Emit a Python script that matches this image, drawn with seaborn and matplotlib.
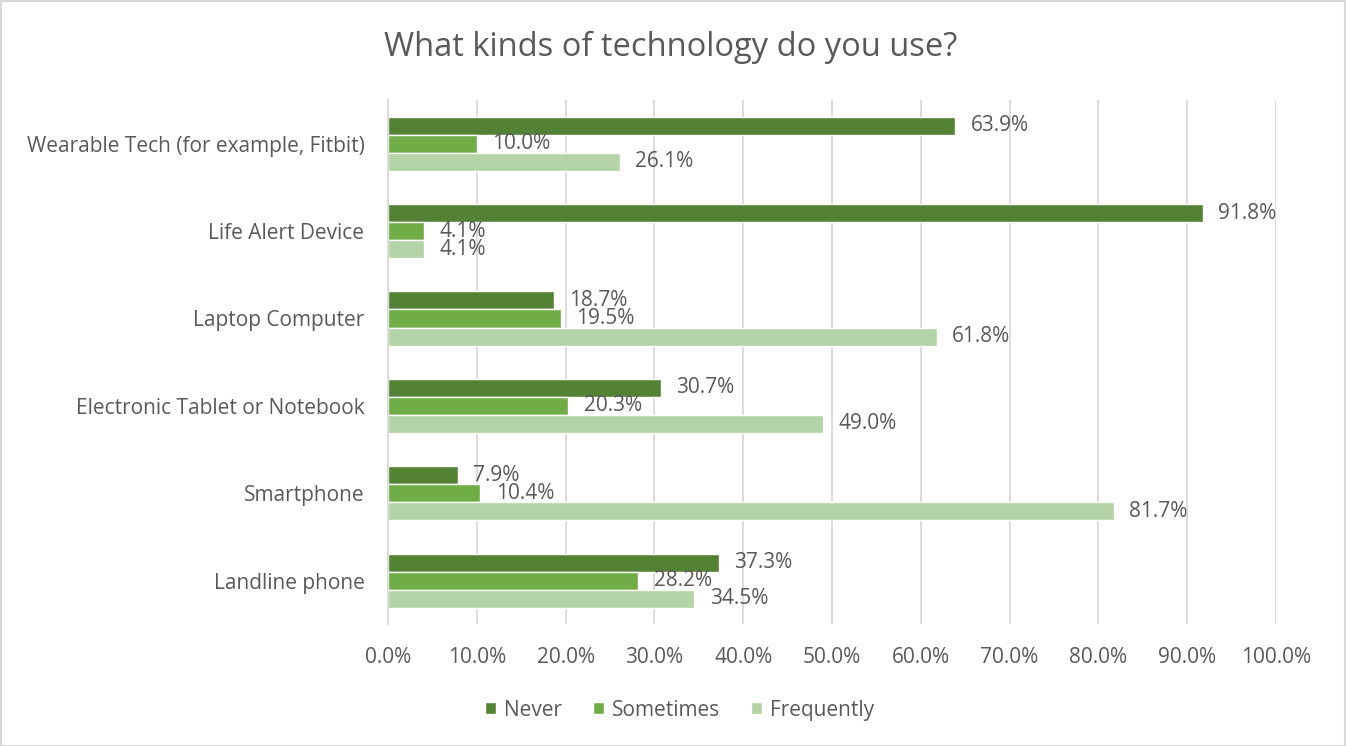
import matplotlib
matplotlib.use("Agg")
import matplotlib.pyplot as plt
import seaborn as sns
import pandas as pd
from matplotlib.patches import Rectangle
from matplotlib.ticker import FuncFormatter, MultipleLocator

# Survey results: share of respondents per usage frequency
categories = [
    "Wearable Tech (for example, Fitbit)",
    "Life Alert Device",
    "Laptop Computer",
    "Electronic Tablet or Notebook",
    "Smartphone",
    "Landline phone",
]
series = ["Never", "Sometimes", "Frequently"]
never = [63.9, 91.8, 18.7, 30.7, 7.9, 37.3]
sometimes = [10.0, 4.1, 19.5, 20.3, 10.4, 28.2]
frequently = [26.1, 4.1, 61.8, 49.0, 81.7, 34.5]
colors = ["#548235", "#70AD47", "#B4D3A6"]

values = {"Never": never, "Sometimes": sometimes, "Frequently": frequently}
rows = []
for s in series:
    for c, v in zip(categories, values[s]):
        rows.append({"Technology": c, "Frequency": s, "Percent": v})
df = pd.DataFrame(rows)

sns.set_theme(style="white")
plt.rcParams["font.family"] = ["Open Sans", "DejaVu Sans"]
text_color = "#595959"
fs = 15

fig = plt.figure(figsize=(13.46, 7.46), dpi=100)
ax = fig.add_axes([0.2883, 0.163, 0.6597, 0.703])

sns.barplot(
    data=df, y="Technology", x="Percent", hue="Frequency",
    order=categories, hue_order=series, palette=colors,
    orient="h", width=0.62, ax=ax, legend=True, saturation=1,
)

ax.set_xlim(0, 100)
ax.xaxis.set_major_locator(MultipleLocator(10))
ax.xaxis.set_major_formatter(FuncFormatter(lambda v, p: f"{v:.1f}%"))
ax.grid(axis="x", color="#D9D9D9", linewidth=1.3)
ax.set_axisbelow(True)
for side in ["top", "right", "bottom"]:
    ax.spines[side].set_visible(False)
ax.spines["left"].set_color("#D9D9D9")
ax.spines["left"].set_linewidth(1.3)
ax.set_xlabel("")
ax.set_ylabel("")
ax.tick_params(axis="both", length=0, labelsize=fs, colors=text_color)
ax.tick_params(axis="x", pad=16)
ax.tick_params(axis="y", pad=17)

for container in ax.containers:
    ax.bar_label(container, labels=[f"{v:.1f}%" for v in container.datavalues],
                 padding=11, fontsize=fs, color=text_color)

handles, labels = ax.get_legend_handles_labels()
ax.get_legend().remove()
fig.legend(
    handles, labels, loc="center", bbox_to_anchor=(0.505, 0.048), ncol=3,
    frameon=False, fontsize=fs, handlelength=0.5, handleheight=0.5,
    handletextpad=0.4, columnspacing=1.5, labelcolor=text_color,
)

fig.text(0.4979, 0.937, "What kinds of technology do you use?", ha="center",
         va="center", fontsize=23.5, color=text_color)

fig.patches.append(Rectangle((0.001, 0.0), 0.998, 0.998, transform=fig.transFigure,
                             fill=False, edgecolor="#D9D9D9", linewidth=1.5))

fig.savefig("out.png", dpi=100)
